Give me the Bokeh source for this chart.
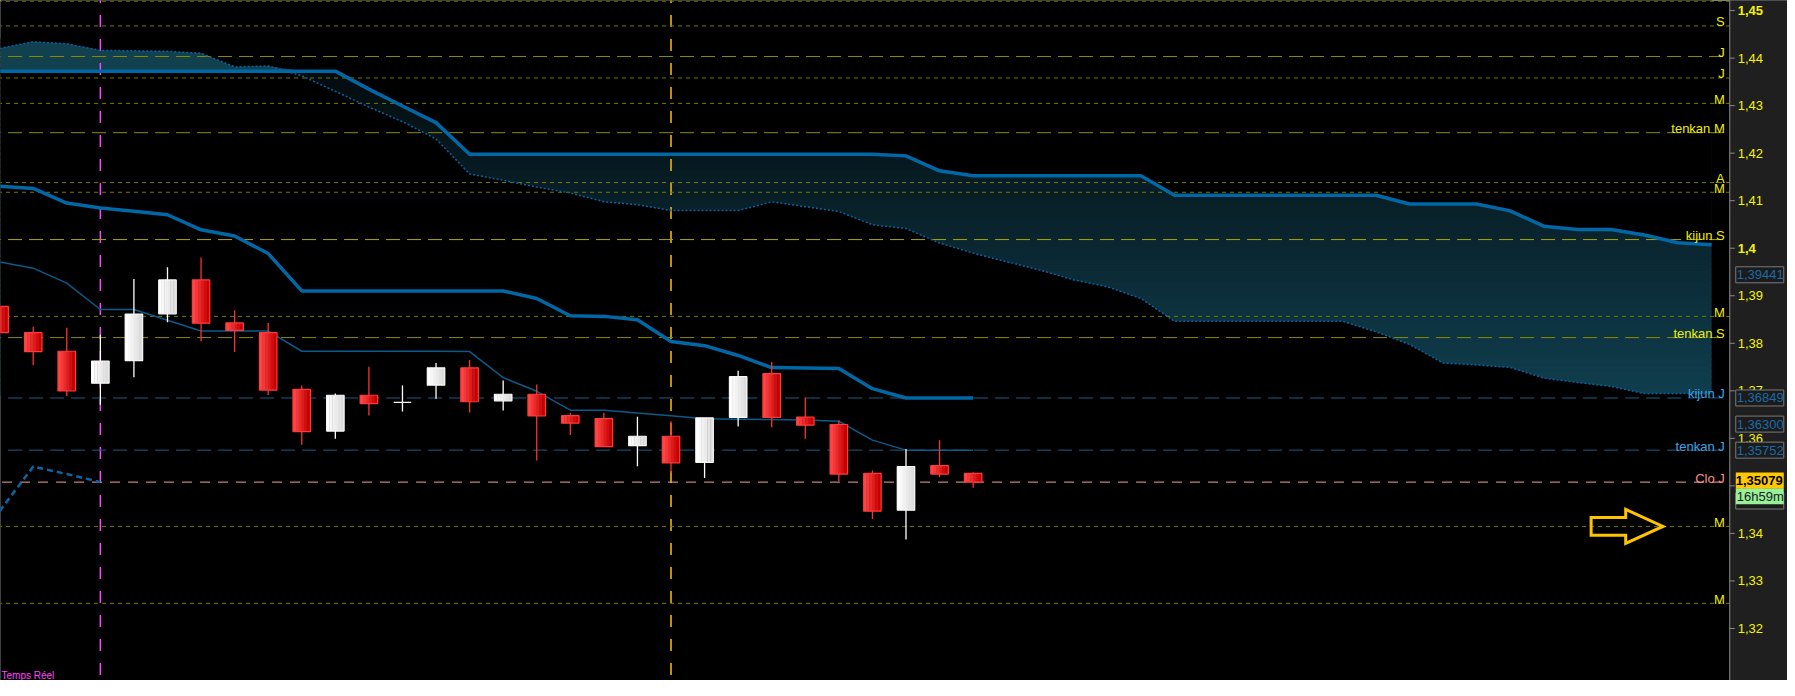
import numpy as np
from bokeh.plotting import figure
from bokeh.core.properties import value
from bokeh.embed import file_html
from bokeh.resources import INLINE

# ---------------- data ----------------
opens = [1.38778, 1.38223, 1.37832, 1.37160, 1.37633, 1.38620, 1.39333, 1.38429, 1.38223, 1.37031,
         1.36153, 1.36907, 1.36757, 1.37119, 1.37483, 1.36790, 1.36928, 1.36476, 1.36414, 1.35845,
         1.36044, 1.35495, 1.36441, 1.37360, 1.36449, 1.36291, 1.35263, 1.34488, 1.35428, 1.35263]
highs = [1.38819, 1.38346, 1.38326, 1.38182, 1.39354, 1.39600, 1.39806, 1.38696, 1.38429, 1.37113,
         1.36942, 1.37504, 1.37113, 1.37586, 1.37647, 1.37216, 1.37134, 1.36537, 1.36537, 1.36455,
         1.36359, 1.36429, 1.37421, 1.37606, 1.36866, 1.36373, 1.35325, 1.35777, 1.35962, 1.35284]
lows = [1.38202, 1.37539, 1.36893, 1.36708, 1.37284, 1.38443, 1.38044, 1.37818, 1.36914, 1.35865,
        1.35989, 1.36482, 1.36564, 1.36831, 1.36544, 1.36585, 1.35536, 1.36071, 1.35824, 1.35413,
        1.35278, 1.35166, 1.36250, 1.36235, 1.35989, 1.35105, 1.34303, 1.33872, 1.35187, 1.34961]
closes = [1.38223, 1.37826, 1.36996, 1.37627, 1.38614, 1.39333, 1.38422, 1.38270, 1.37016, 1.36141,
          1.36907, 1.36729, 1.36757, 1.37483, 1.36770, 1.36928, 1.36470, 1.36318, 1.35824, 1.36044,
          1.35483, 1.36429, 1.37298, 1.36441, 1.36276, 1.35249, 1.34468, 1.35407, 1.35249, 1.35079]

tenkan = [1.39713, 1.39580, 1.39265, 1.38710, 1.38710, 1.38484, 1.38258, 1.38258, 1.38258, 1.37832,
          1.37832, 1.37832, 1.37832, 1.37832, 1.37826, 1.37277, 1.36990, 1.36593, 1.36593, 1.36533,
          1.36476, 1.36414, 1.36404, 1.36394, 1.36387, 1.36359, 1.35962, 1.35752, 1.35752, 1.35752]
kijun = [1.41306, 1.41259, 1.40951, 1.40848, 1.40778, 1.40704, 1.40387, 1.40258, 1.39888, 1.39101,
         1.39101, 1.39101, 1.39101, 1.39101, 1.39101, 1.39101, 1.38942, 1.38579, 1.38566, 1.38496,
         1.38038, 1.37950, 1.37744, 1.37489, 1.37479, 1.37469, 1.37045, 1.36849, 1.36849, 1.36849]

span_a = [1.43726, 1.43726, 1.43726, 1.43726, 1.43726, 1.43726, 1.43726, 1.43726, 1.43726, 1.43726,
          1.43726, 1.43347, 1.42992, 1.42642, 1.41978, 1.41978, 1.41978, 1.41978, 1.41978, 1.41978,
          1.41978, 1.41978, 1.41978, 1.41978, 1.41978, 1.41978, 1.41978, 1.41943, 1.41629, 1.41526,
          1.41526, 1.41526, 1.41526, 1.41526, 1.41526, 1.41115, 1.41115, 1.41115, 1.41115, 1.41115,
          1.41115, 1.41115, 1.40930, 1.40930, 1.40930, 1.40786, 1.40464, 1.40396, 1.40396, 1.40279,
          1.40114, 1.40073]
span_b = [1.44205, 1.44342, 1.44301, 1.44163, 1.44153, 1.44143, 1.44102, 1.43814, 1.43835, 1.43629,
          1.43300, 1.42971, 1.42663, 1.42299, 1.41563, 1.41430, 1.41286, 1.41162, 1.40977, 1.40916,
          1.40792, 1.40792, 1.40792, 1.40977, 1.40875, 1.40772, 1.40494, 1.40416, 1.40108, 1.39898,
          1.39715, 1.39539, 1.39333, 1.39189, 1.38942, 1.38463, 1.38463, 1.38463, 1.38463, 1.38463,
          1.38463, 1.38244, 1.37976, 1.37586, 1.37545, 1.37493, 1.37267, 1.37175, 1.37093, 1.36942,
          1.36942, 1.36942]

chikou_shift = 26
event_idx = [3, 20]

level_prices = [1.45197, 1.44677, 1.44034, 1.43582, 1.43047, 1.42431, 1.41382, 1.41177, 1.40182,
                1.38566, 1.38120, 1.36849, 1.35752, 1.35079, 1.34147, 1.32529]
level_labels = ["", "S", "J", "J", "M", "tenkan M", "A", "M", "kijun S",
                "M", "tenkan S", "kijun J", "tenkan J", "Clo J", "M", "M"]
level_kinds = ["short", "short", "long", "short", "short", "long", "short", "short", "kijun",
               "short", "long", "blue", "blue", "pink", "short", "short"]

tick_values = [1.32, 1.33, 1.34, 1.35, 1.36, 1.37, 1.38, 1.39, 1.40, 1.41, 1.42, 1.43, 1.44, 1.45]
tick_labels = ["1,32", "1,33", "1,34", "1,35", "1,36", "1,37", "1,38", "1,39", "1,4", "1,41",
               "1,42", "1,43", "1,44", "1,45"]
bold_ticks = [1.40, 1.45]

tag_values = [1.39441, 1.36849, 1.36300, 1.35752]
tag_texts = ["1,39441", "1,36849", "1,36300", "1,35752"]
last_close_text = "1,35079"
timer_text = "16h59m"

# ---------------- figure ----------------
W, H = 1787, 680
X0, X1 = 0.0255, 53.26
Y0, Y1 = 1.30905, 1.45212
AXIS_X = 51.54          # where the price scale starts (in bar units)
FONT = "Liberation Sans"


def dx(px):
    return px * (X1 - X0) / W


def dy(px):
    return px * (Y1 - Y0) / H


p = figure(width=W, height=H, x_range=(X0, X1), y_range=(Y0, Y1),
           x_axis_location=None, y_axis_location=None,
           output_backend="svg", toolbar_location=None,
           background_fill_color="#000000", border_fill_color="#000000",
           min_border_left=0, min_border_top=0, min_border_bottom=0, min_border_right=0)
p.outline_line_color = None
p.grid.visible = False

cx = np.arange(len(span_a))
a = np.array(span_a)
b = np.array(span_b)
upper = np.maximum(a, b)
lower = np.minimum(a, b)

# cloud vertical gradient (styling bands), then black masks outside the cloud
g_lo, g_hi = 1.3690, 1.4440
c_light, c_dark = np.array([16, 62, 78]), np.array([3, 11, 14])
p_light, p_dark = 1.3694, 1.4373
nb = 60
edges = np.linspace(g_lo, g_hi, nb + 1)
mids = (edges[:-1] + edges[1:]) / 2
tt = np.clip((mids - p_light) / (p_dark - p_light), 0, 1)
band_cols = ["#%02x%02x%02x" % tuple(int(round(v)) for v in (c_light * (1 - t) + c_dark * t)) for t in tt]
p.quad(left=cx[0], right=cx[-1], bottom=edges[:-1], top=edges[1:] + 0.0003,
       fill_color=band_cols, line_color=None)
p.varea(x=cx, y1=upper, y2=1.47, fill_color="#000000")
p.varea(x=cx, y1=1.29, y2=lower, fill_color="#000000")
p.varea(x=cx, y1=a, y2=upper, fill_color="#11404f")

# vertical event lines
p.segment(x0=[event_idx[0]], x1=[event_idx[0]], y0=[1.29], y1=[1.47],
          line_color="#ff44ff", line_width=1.5, line_dash="12 12")
p.segment(x0=[event_idx[1]], x1=[event_idx[1]], y0=[1.29], y1=[1.47],
          line_color="#ffc000", line_width=1.5, line_dash="12 12")

# level lines
styles = {
    "short": ("#7a7a00", "4 4"),
    "long": ("#8a8a00", "14 7"),
    "kijun": ("#a8a800", "14 7"),
    "blue": ("#1d5c84", "14 7"),
    "pink": ("#f4a0a0", "10 8"),
}
lp = np.array(level_prices)
lk = np.array(level_kinds)
for kind, (col, dash) in styles.items():
    sel = lp[lk == kind]
    p.segment(x0=-1, x1=AXIS_X, y0=sel, y1=sel, line_color=col, line_width=1, line_dash=dash)

# cloud borders
p.line(cx, b, line_color="#0a62a0", line_width=1.5, line_dash="2 2")
p.line(cx, a, line_color="#0068a6", line_width=3.5)

ix = np.arange(len(closes))
ch = closes[chikou_shift:]
p.line(ix[:len(ch)], ch, line_color="#0a66a6", line_width=2.5, line_dash="6 4")
p.line(ix, tenkan, line_color="#0b5a8a", line_width=1.5)
p.line(ix, kijun, line_color="#0068a6", line_width=3.5)

# candles
o = np.array(opens); c = np.array(closes)
up = c >= o
btop = np.maximum(o, c); bbot = np.minimum(o, c)
wick_cols = ["#ffffff" if u else "#ff3030" for u in up]
p.segment(x0=ix, x1=ix, y0=lows, y1=highs, line_color=wick_cols, line_width=1.3)
w = 0.52
ns = 6
for k in range(ns):
    t = k / (ns - 1)
    rc = "#%02x%02x%02x" % (int(255 - 57 * t), int(70 - 70 * t), int(70 - 70 * t))
    wc = "#%02x%02x%02x" % ((int(255 - 35 * t),) * 3)
    cols = [wc if u else rc for u in up]
    p.vbar(x=ix - w / 2 + (k + 0.5) * w / ns, width=w / ns * 1.15, top=btop, bottom=bbot,
           fill_color=cols, line_color=None)
border_cols = ["#f8f8f8" if u else "#ff3a3a" for u in up]
p.vbar(x=ix, width=w, top=btop, bottom=bbot, fill_color=None, line_color=border_cols, line_width=1.2)

# level labels
lab_cols = {"short": "#eeee00", "long": "#eeee00", "kijun": "#eeee00", "blue": "#3aa4e6", "pink": "#ff8c8c"}
lx, ly, lt, lc = [], [], [], []
for pr, lb, kd in zip(level_prices, level_labels, level_kinds):
    if lb:
        lx.append(AXIS_X - dx(5)); ly.append(pr); lt.append(lb); lc.append(lab_cols[kd])
p.text(x=lx, y=ly, text=lt, text_color=lc, text_align="right", text_baseline="alphabetic",
       y_offset=-4, text_font=value(FONT), text_font_size="13px")

# Temps Réel
p.text(x=[X0 + dx(1)], y=[Y0 + dy(5)], text=["Temps Réel"], text_color="#ff44ff", text_align="left",
       text_baseline="alphabetic", text_font=value(FONT), text_font_size="10px")

# arrow at the lower "M" level
ay = level_prices[-2]
x0a, xba, x1a = 47.41, 48.44, 49.55
sh, hh = dy(8.8), dy(17)
p.patch(x=[x0a, xba, xba, x1a, xba, xba, x0a],
        y=[ay + sh, ay + sh, ay + hh, ay, ay - hh, ay - sh, ay - sh],
        fill_color=None, line_color="#ffc400", line_width=3, line_join="miter")

# ---------------- price scale (right) ----------------
p.quad(left=[AXIS_X], right=[X1 + 1], bottom=[Y0 - 1], top=[Y1 + 1], fill_color="#1f1f1f", line_color=None)
p.segment(x0=[AXIS_X], x1=[AXIS_X], y0=[Y0 - 1], y1=[Y1 + 1], line_color="#8a8a8a", line_width=1)
tv = np.array(tick_values)
p.segment(x0=AXIS_X, x1=AXIS_X + dx(5), y0=tv, y1=tv, line_color="#8a8a8a", line_width=1)
norm = [(v, l) for v, l in zip(tick_values, tick_labels) if v not in bold_ticks]
bold = [(v, l) for v, l in zip(tick_values, tick_labels) if v in bold_ticks]
p.text(x=AXIS_X + dx(8), y=[v for v, _ in norm], text=[l for _, l in norm], text_color="#f4f400",
       text_baseline="middle", text_align="left", text_font=value(FONT), text_font_size="13px")
p.text(x=AXIS_X + dx(8), y=[v for v, _ in bold], text=[l for _, l in bold], text_color="#f4f400",
       text_baseline="middle", text_align="left", text_font=value(FONT), text_font_size="13px",
       text_font_style="bold")

# value tags on the scale
TAG_X = AXIS_X + dx(30)
p.rect(x=TAG_X, y=tag_values, width=48, height=16, width_units="screen", height_units="screen",
       fill_color="#1b1b1b", line_color="#7a7a7a", line_width=1)
p.text(x=AXIS_X + dx(7), y=tag_values, text=tag_texts, text_color="#1a6aa6", text_baseline="middle",
       text_align="left", text_font=value(FONT), text_font_size="13px")
# hidden tag under the timer
p.rect(x=[TAG_X], y=[Y1 - dy(500.5)], width=48, height=16, width_units="screen", height_units="screen",
       fill_color="#1b1b1b", line_color="#7a7a7a", line_width=1)
# timer tag
p.rect(x=[TAG_X], y=[Y1 - dy(495.7)], width=48, height=16, width_units="screen", height_units="screen",
       fill_color="#98f098", line_color=None)
p.text(x=[AXIS_X + dx(7)], y=[Y1 - dy(495.7)], text=[timer_text], text_color="#1a1a1a",
       text_baseline="middle", text_align="left", text_font=value(FONT), text_font_size="13px")
# last close tag
p.rect(x=[TAG_X], y=[Y1 - dy(480)], width=48, height=16, width_units="screen", height_units="screen",
       fill_color="#ffc800", line_color=None)
p.text(x=[AXIS_X + dx(6)], y=[Y1 - dy(480)], text=[last_close_text], text_color="#000000",
       text_baseline="middle", text_align="left", text_font=value(FONT), text_font_size="13px",
       text_font_style="bold")

open("out.html", "w").write(file_html(p, INLINE))
